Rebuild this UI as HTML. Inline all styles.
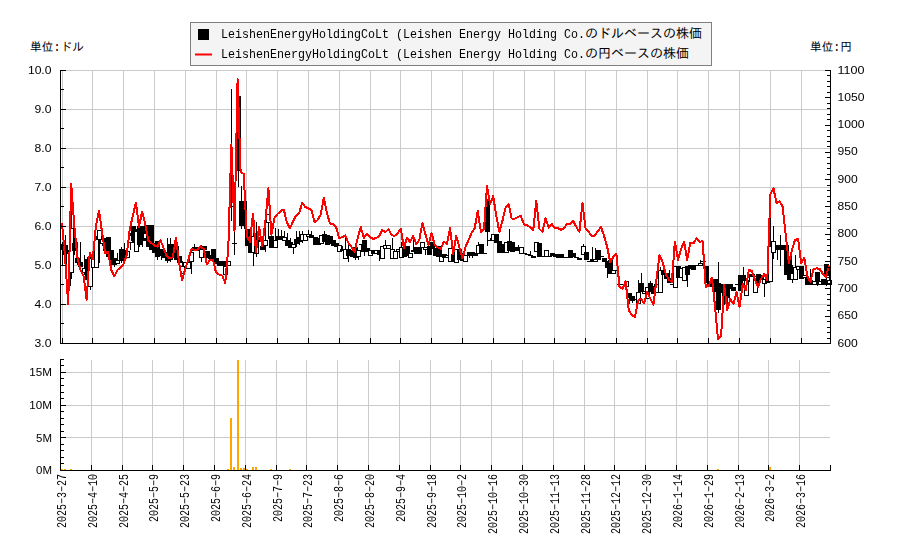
<!DOCTYPE html>
<html lang="ja"><head><meta charset="utf-8"><title>LeishenEnergyHoldingCoLt chart</title>
<style>html,body{margin:0;padding:0;background:#fff;font-family:"Liberation Sans",sans-serif}svg{display:block}</style></head>
<body>
<svg width="900" height="550" viewBox="0 0 900 550">
<rect width="900" height="550" fill="#fff"/>
<g stroke="#cbcbcb" stroke-width="1" shape-rendering="crispEdges">
<line x1="62.5" y1="70" x2="62.5" y2="343"/>
<line x1="92.5" y1="70" x2="92.5" y2="343"/>
<line x1="91.5" y1="360" x2="91.5" y2="470"/>
<line x1="123.5" y1="70" x2="123.5" y2="343"/>
<line x1="122.5" y1="360" x2="122.5" y2="470"/>
<line x1="154.5" y1="70" x2="154.5" y2="343"/>
<line x1="152.5" y1="360" x2="152.5" y2="470"/>
<line x1="185.5" y1="70" x2="185.5" y2="343"/>
<line x1="183.5" y1="360" x2="183.5" y2="470"/>
<line x1="216.5" y1="70" x2="216.5" y2="343"/>
<line x1="214.5" y1="360" x2="214.5" y2="470"/>
<line x1="246.5" y1="70" x2="246.5" y2="343"/>
<line x1="245.5" y1="360" x2="245.5" y2="470"/>
<line x1="277.5" y1="70" x2="277.5" y2="343"/>
<line x1="276.5" y1="360" x2="276.5" y2="470"/>
<line x1="308.5" y1="70" x2="308.5" y2="343"/>
<line x1="306.5" y1="360" x2="306.5" y2="470"/>
<line x1="339.5" y1="70" x2="339.5" y2="343"/>
<line x1="337.5" y1="360" x2="337.5" y2="470"/>
<line x1="370.5" y1="70" x2="370.5" y2="343"/>
<line x1="368.5" y1="360" x2="368.5" y2="470"/>
<line x1="400.5" y1="70" x2="400.5" y2="343"/>
<line x1="399.5" y1="360" x2="399.5" y2="470"/>
<line x1="431.5" y1="70" x2="431.5" y2="343"/>
<line x1="430.5" y1="360" x2="430.5" y2="470"/>
<line x1="462.5" y1="70" x2="462.5" y2="343"/>
<line x1="460.5" y1="360" x2="460.5" y2="470"/>
<line x1="493.5" y1="70" x2="493.5" y2="343"/>
<line x1="491.5" y1="360" x2="491.5" y2="470"/>
<line x1="524.5" y1="70" x2="524.5" y2="343"/>
<line x1="522.5" y1="360" x2="522.5" y2="470"/>
<line x1="554.5" y1="70" x2="554.5" y2="343"/>
<line x1="553.5" y1="360" x2="553.5" y2="470"/>
<line x1="585.5" y1="70" x2="585.5" y2="343"/>
<line x1="584.5" y1="360" x2="584.5" y2="470"/>
<line x1="616.5" y1="70" x2="616.5" y2="343"/>
<line x1="614.5" y1="360" x2="614.5" y2="470"/>
<line x1="647.5" y1="70" x2="647.5" y2="343"/>
<line x1="645.5" y1="360" x2="645.5" y2="470"/>
<line x1="677.5" y1="70" x2="677.5" y2="343"/>
<line x1="676.5" y1="360" x2="676.5" y2="470"/>
<line x1="708.5" y1="70" x2="708.5" y2="343"/>
<line x1="707.5" y1="360" x2="707.5" y2="470"/>
<line x1="739.5" y1="70" x2="739.5" y2="343"/>
<line x1="738.5" y1="360" x2="738.5" y2="470"/>
<line x1="770.5" y1="70" x2="770.5" y2="343"/>
<line x1="768.5" y1="360" x2="768.5" y2="470"/>
<line x1="801.5" y1="70" x2="801.5" y2="343"/>
<line x1="799.5" y1="360" x2="799.5" y2="470"/>
<line x1="61" y1="70.5" x2="830" y2="70.5"/>
<line x1="61" y1="109.5" x2="830" y2="109.5"/>
<line x1="61" y1="148.5" x2="830" y2="148.5"/>
<line x1="61" y1="187.5" x2="830" y2="187.5"/>
<line x1="61" y1="226.5" x2="830" y2="226.5"/>
<line x1="61" y1="265.5" x2="830" y2="265.5"/>
<line x1="61" y1="304.5" x2="830" y2="304.5"/>
<line x1="61" y1="343.5" x2="830" y2="343.5"/>
<line x1="61" y1="437.5" x2="830" y2="437.5"/>
<line x1="61" y1="405.5" x2="830" y2="405.5"/>
<line x1="61" y1="372.5" x2="830" y2="372.5"/>
</g>
<g fill="#ffa500" shape-rendering="crispEdges">
<rect x="61" y="469" width="2" height="1"/>
<rect x="64" y="469" width="2" height="1"/>
<rect x="70" y="469" width="2" height="1"/>
<rect x="227" y="469" width="2" height="1"/>
<rect x="230" y="418" width="2" height="52"/>
<rect x="233" y="467" width="2" height="3"/>
<rect x="237" y="360" width="2" height="110"/>
<rect x="240" y="468" width="2" height="2"/>
<rect x="243" y="468" width="2" height="2"/>
<rect x="246" y="469" width="2" height="1"/>
<rect x="252" y="467" width="2" height="3"/>
<rect x="255" y="467" width="2" height="3"/>
<rect x="270" y="469" width="2" height="1"/>
<rect x="289" y="469" width="2" height="1"/>
<rect x="717" y="469" width="2" height="1"/>
<rect x="769" y="467" width="2" height="3"/>
</g>
<g stroke="#000" stroke-width="1" shape-rendering="crispEdges">
<line x1="62.5" y1="242" x2="62.5" y2="244"/>
<line x1="62.5" y1="249" x2="62.5" y2="266"/>
<rect x="60.5" y="244.5" width="4" height="5" fill="#000"/>
<line x1="65.5" y1="235" x2="65.5" y2="245"/>
<line x1="65.5" y1="254" x2="65.5" y2="259"/>
<rect x="63.5" y="245.5" width="4" height="9" fill="#000"/>
<line x1="68.5" y1="250" x2="68.5" y2="253"/>
<line x1="68.5" y1="285" x2="68.5" y2="291"/>
<rect x="66.5" y="253.5" width="4" height="32" fill="#fff"/>
<line x1="71.5" y1="208" x2="71.5" y2="228"/>
<line x1="71.5" y1="272" x2="71.5" y2="279"/>
<rect x="69.5" y="228.5" width="4" height="44" fill="#fff"/>
<line x1="74.5" y1="236" x2="74.5" y2="243"/>
<line x1="74.5" y1="250" x2="74.5" y2="255"/>
<rect x="72.5" y="243.5" width="4" height="7" fill="#000"/>
<line x1="77.5" y1="242" x2="77.5" y2="258"/>
<line x1="77.5" y1="262" x2="77.5" y2="265"/>
<rect x="75.5" y="258.5" width="4" height="4" fill="#000"/>
<line x1="80.5" y1="242" x2="80.5" y2="262"/>
<line x1="80.5" y1="266" x2="80.5" y2="269"/>
<rect x="78.5" y="262.5" width="4" height="4" fill="#000"/>
<line x1="84.5" y1="255" x2="84.5" y2="268"/>
<line x1="84.5" y1="272" x2="84.5" y2="275"/>
<rect x="82.5" y="268.5" width="4" height="4" fill="#fff"/>
<line x1="87.5" y1="257" x2="87.5" y2="259"/>
<line x1="87.5" y1="279" x2="87.5" y2="289"/>
<rect x="85.5" y="259.5" width="4" height="20" fill="#000"/>
<line x1="90.5" y1="253" x2="90.5" y2="258"/>
<line x1="90.5" y1="286" x2="90.5" y2="290"/>
<rect x="88.5" y="258.5" width="4" height="28" fill="#fff"/>
<line x1="93.5" y1="254" x2="93.5" y2="258"/>
<rect x="91.5" y="258.5" width="4" height="9" fill="#fff"/>
<line x1="96.5" y1="236" x2="96.5" y2="239"/>
<rect x="94.5" y="239.5" width="4" height="28" fill="#fff"/>
<line x1="99.5" y1="239" x2="99.5" y2="263"/>
<rect x="97.5" y="230.5" width="4" height="9" fill="#fff"/>
<line x1="102.5" y1="243" x2="102.5" y2="246"/>
<rect x="100.5" y="239.5" width="4" height="4" fill="#fff"/>
<rect x="103.5" y="238.5" width="4" height="12" fill="#000"/>
<rect x="106.5" y="237.5" width="4" height="19" fill="#000"/>
<rect x="109.5" y="250.5" width="4" height="14" fill="#000"/>
<line x1="114.5" y1="264" x2="114.5" y2="267"/>
<rect x="112.5" y="258.5" width="4" height="6" fill="#000"/>
<line x1="117.5" y1="253" x2="117.5" y2="260"/>
<rect x="115.5" y="260.5" width="4" height="3" fill="#fff"/>
<line x1="121.5" y1="247" x2="121.5" y2="249"/>
<line x1="121.5" y1="260" x2="121.5" y2="263"/>
<rect x="119.5" y="249.5" width="4" height="11" fill="#000"/>
<line x1="124.5" y1="243" x2="124.5" y2="250"/>
<line x1="124.5" y1="258" x2="124.5" y2="261"/>
<rect x="122.5" y="250.5" width="4" height="8" fill="#000"/>
<line x1="127.5" y1="249" x2="127.5" y2="251"/>
<rect x="125.5" y="251.5" width="4" height="6" fill="#fff"/>
<line x1="130.5" y1="233" x2="130.5" y2="235"/>
<line x1="130.5" y1="242" x2="130.5" y2="250"/>
<rect x="128.5" y="235.5" width="4" height="7" fill="#fff"/>
<line x1="133.5" y1="240" x2="133.5" y2="243"/>
<rect x="131.5" y="226.5" width="4" height="14" fill="#000"/>
<line x1="136.5" y1="229" x2="136.5" y2="231"/>
<rect x="134.5" y="231.5" width="4" height="20" fill="#fff"/>
<line x1="139.5" y1="244" x2="139.5" y2="247"/>
<rect x="137.5" y="226.5" width="4" height="18" fill="#000"/>
<line x1="142.5" y1="240" x2="142.5" y2="247"/>
<rect x="140.5" y="226.5" width="4" height="14" fill="#000"/>
<line x1="145.5" y1="226" x2="145.5" y2="233"/>
<line x1="145.5" y1="238" x2="145.5" y2="241"/>
<rect x="143.5" y="233.5" width="4" height="5" fill="#fff"/>
<rect x="146.5" y="225.5" width="4" height="21" fill="#000"/>
<rect x="149.5" y="225.5" width="4" height="24" fill="#000"/>
<rect x="152.5" y="243.5" width="4" height="9" fill="#000"/>
<line x1="157.5" y1="256" x2="157.5" y2="260"/>
<rect x="155.5" y="241.5" width="4" height="15" fill="#000"/>
<line x1="161.5" y1="255" x2="161.5" y2="260"/>
<rect x="159.5" y="249.5" width="4" height="6" fill="#000"/>
<rect x="162.5" y="252.5" width="4" height="5" fill="#000"/>
<line x1="167.5" y1="238" x2="167.5" y2="254"/>
<line x1="167.5" y1="260" x2="167.5" y2="263"/>
<rect x="165.5" y="254.5" width="4" height="6" fill="#000"/>
<line x1="170.5" y1="238" x2="170.5" y2="244"/>
<line x1="170.5" y1="259" x2="170.5" y2="262"/>
<rect x="168.5" y="244.5" width="4" height="15" fill="#000"/>
<rect x="171.5" y="244.5" width="4" height="13" fill="#000"/>
<rect x="174.5" y="246.5" width="4" height="13" fill="#000"/>
<rect x="177.5" y="256.5" width="4" height="6" fill="#000"/>
<line x1="182.5" y1="261" x2="182.5" y2="266"/>
<rect x="180.5" y="266.5" width="4" height="7" fill="#fff"/>
<rect x="183.5" y="262.5" width="4" height="4" fill="#fff"/>
<rect x="186.5" y="262.5" width="4" height="6" fill="#fff"/>
<line x1="191.5" y1="250" x2="191.5" y2="252"/>
<line x1="191.5" y1="261" x2="191.5" y2="274"/>
<rect x="189.5" y="252.5" width="4" height="9" fill="#fff"/>
<line x1="194.5" y1="244" x2="194.5" y2="247"/>
<rect x="192.5" y="247.5" width="4" height="3" fill="#000"/>
<rect x="196.5" y="247.5" width="4" height="3" fill="#000"/>
<line x1="201.5" y1="245" x2="201.5" y2="249"/>
<line x1="201.5" y1="257" x2="201.5" y2="262"/>
<rect x="199.5" y="249.5" width="4" height="8" fill="#fff"/>
<rect x="202.5" y="246.5" width="4" height="3" fill="#000"/>
<rect x="205.5" y="251.5" width="4" height="6" fill="#000"/>
<rect x="208.5" y="255.5" width="4" height="3" fill="#000"/>
<rect x="211.5" y="249.5" width="4" height="10" fill="#000"/>
<rect x="214.5" y="258.5" width="4" height="5" fill="#000"/>
<rect x="217.5" y="261.5" width="4" height="4" fill="#000"/>
<rect x="220.5" y="261.5" width="4" height="4" fill="#000"/>
<line x1="225.5" y1="261" x2="225.5" y2="266"/>
<rect x="223.5" y="266.5" width="4" height="8" fill="#fff"/>
<rect x="226.5" y="261.5" width="4" height="4" fill="#fff"/>
<line x1="231.5" y1="89" x2="231.5" y2="206"/>
<line x1="231.5" y1="206" x2="231.5" y2="221"/>
<line x1="229.0" y1="206.5" x2="234.0" y2="206.5"/>
<line x1="234.5" y1="231" x2="234.5" y2="243"/>
<line x1="234.5" y1="243" x2="234.5" y2="255"/>
<line x1="232.0" y1="243.5" x2="237.0" y2="243.5"/>
<line x1="238.5" y1="170" x2="238.5" y2="187"/>
<rect x="236.5" y="96.5" width="4" height="74" fill="#000"/>
<line x1="241.5" y1="186" x2="241.5" y2="201"/>
<line x1="241.5" y1="225" x2="241.5" y2="229"/>
<rect x="239.5" y="201.5" width="4" height="24" fill="#000"/>
<line x1="244.5" y1="225" x2="244.5" y2="229"/>
<rect x="242.5" y="201.5" width="4" height="24" fill="#000"/>
<rect x="245.5" y="229.5" width="4" height="16" fill="#000"/>
<rect x="248.5" y="238.5" width="4" height="14" fill="#000"/>
<line x1="253.5" y1="233" x2="253.5" y2="236"/>
<line x1="253.5" y1="252" x2="253.5" y2="266"/>
<rect x="251.5" y="236.5" width="4" height="16" fill="#fff"/>
<line x1="256.5" y1="222" x2="256.5" y2="240"/>
<line x1="256.5" y1="253" x2="256.5" y2="257"/>
<rect x="254.5" y="240.5" width="4" height="13" fill="#fff"/>
<rect x="257.5" y="237.5" width="4" height="4" fill="#000"/>
<rect x="260.5" y="246.5" width="4" height="3" fill="#000"/>
<line x1="265.5" y1="228" x2="265.5" y2="240"/>
<line x1="265.5" y1="245" x2="265.5" y2="252"/>
<rect x="263.5" y="240.5" width="4" height="5" fill="#fff"/>
<line x1="268.5" y1="222" x2="268.5" y2="239"/>
<rect x="266.5" y="214.5" width="4" height="8" fill="#fff"/>
<rect x="269.5" y="236.5" width="4" height="11" fill="#000"/>
<line x1="275.5" y1="228" x2="275.5" y2="240"/>
<rect x="273.5" y="240.5" width="4" height="7" fill="#fff"/>
<line x1="278.5" y1="229" x2="278.5" y2="236"/>
<rect x="276.5" y="236.5" width="4" height="3" fill="#000"/>
<line x1="281.5" y1="230" x2="281.5" y2="236"/>
<rect x="279.5" y="236.5" width="4" height="3" fill="#000"/>
<line x1="284.5" y1="231" x2="284.5" y2="237"/>
<rect x="282.5" y="237.5" width="4" height="3" fill="#fff"/>
<line x1="287.5" y1="233" x2="287.5" y2="240"/>
<rect x="285.5" y="240.5" width="4" height="5" fill="#000"/>
<line x1="290.5" y1="238" x2="290.5" y2="242"/>
<rect x="288.5" y="242.5" width="4" height="5" fill="#000"/>
<line x1="293.5" y1="247" x2="293.5" y2="254"/>
<rect x="291.5" y="244.5" width="4" height="3" fill="#fff"/>
<line x1="296.5" y1="231" x2="296.5" y2="239"/>
<line x1="296.5" y1="243" x2="296.5" y2="247"/>
<rect x="294.5" y="239.5" width="4" height="4" fill="#000"/>
<line x1="299.5" y1="231" x2="299.5" y2="237"/>
<line x1="299.5" y1="241" x2="299.5" y2="245"/>
<rect x="297.5" y="237.5" width="4" height="4" fill="#000"/>
<line x1="302.5" y1="231" x2="302.5" y2="234"/>
<line x1="302.5" y1="240" x2="302.5" y2="243"/>
<rect x="300.5" y="234.5" width="4" height="6" fill="#fff"/>
<rect x="303.5" y="234.5" width="4" height="6" fill="#fff"/>
<line x1="308.5" y1="230" x2="308.5" y2="234"/>
<rect x="306.5" y="234.5" width="4" height="2" fill="#fff"/>
<line x1="311.5" y1="231" x2="311.5" y2="235"/>
<rect x="309.5" y="235.5" width="4" height="2" fill="#000"/>
<rect x="313.5" y="237.5" width="4" height="7" fill="#000"/>
<rect x="316.5" y="238.5" width="4" height="6" fill="#000"/>
<rect x="319.5" y="235.5" width="4" height="8" fill="#fff"/>
<line x1="324.5" y1="231" x2="324.5" y2="234"/>
<rect x="322.5" y="234.5" width="4" height="7" fill="#000"/>
<rect x="325.5" y="235.5" width="4" height="9" fill="#000"/>
<rect x="328.5" y="236.5" width="4" height="7" fill="#000"/>
<rect x="331.5" y="240.5" width="4" height="5" fill="#000"/>
<rect x="334.5" y="243.5" width="4" height="3" fill="#000"/>
<rect x="337.5" y="245.5" width="4" height="6" fill="#fff"/>
<line x1="342.5" y1="246" x2="342.5" y2="249"/>
<rect x="340.5" y="249.5" width="4" height="1" fill="#000"/>
<line x1="345.5" y1="238" x2="345.5" y2="249"/>
<rect x="343.5" y="249.5" width="4" height="9" fill="#fff"/>
<line x1="348.5" y1="244" x2="348.5" y2="249"/>
<line x1="348.5" y1="255" x2="348.5" y2="262"/>
<rect x="346.5" y="249.5" width="4" height="6" fill="#000"/>
<rect x="350.5" y="250.5" width="4" height="6" fill="#000"/>
<line x1="355.5" y1="257" x2="355.5" y2="260"/>
<rect x="353.5" y="247.5" width="4" height="10" fill="#000"/>
<line x1="358.5" y1="256" x2="358.5" y2="260"/>
<rect x="356.5" y="250.5" width="4" height="6" fill="#fff"/>
<line x1="361.5" y1="244" x2="361.5" y2="252"/>
<line x1="359.0" y1="244.5" x2="364.0" y2="244.5"/>
<line x1="364.5" y1="251" x2="364.5" y2="256"/>
<rect x="362.5" y="240.5" width="4" height="11" fill="#000"/>
<rect x="365.5" y="248.5" width="4" height="3" fill="#000"/>
<rect x="368.5" y="250.5" width="4" height="5" fill="#fff"/>
<rect x="371.5" y="250.5" width="4" height="3" fill="#000"/>
<rect x="374.5" y="250.5" width="4" height="3" fill="#fff"/>
<line x1="379.5" y1="254" x2="379.5" y2="261"/>
<rect x="377.5" y="250.5" width="4" height="4" fill="#000"/>
<rect x="380.5" y="246.5" width="4" height="12" fill="#fff"/>
<line x1="385.5" y1="240" x2="385.5" y2="245"/>
<rect x="383.5" y="245.5" width="4" height="3" fill="#fff"/>
<rect x="386.5" y="245.5" width="4" height="3" fill="#fff"/>
<line x1="392.5" y1="238" x2="392.5" y2="249"/>
<rect x="390.5" y="249.5" width="4" height="9" fill="#fff"/>
<rect x="393.5" y="251.5" width="4" height="7" fill="#fff"/>
<rect x="396.5" y="249.5" width="4" height="2" fill="#fff"/>
<line x1="401.5" y1="242" x2="401.5" y2="247"/>
<rect x="399.5" y="247.5" width="4" height="10" fill="#fff"/>
<rect x="402.5" y="247.5" width="4" height="9" fill="#000"/>
<rect x="405.5" y="246.5" width="4" height="9" fill="#000"/>
<rect x="408.5" y="253.5" width="4" height="4" fill="#fff"/>
<line x1="413.5" y1="240" x2="413.5" y2="250"/>
<rect x="411.5" y="250.5" width="4" height="1" fill="#fff"/>
<rect x="414.5" y="247.5" width="4" height="6" fill="#000"/>
<rect x="417.5" y="247.5" width="4" height="6" fill="#000"/>
<rect x="420.5" y="242.5" width="4" height="5" fill="#fff"/>
<line x1="425.5" y1="249" x2="425.5" y2="255"/>
<rect x="423.5" y="247.5" width="4" height="2" fill="#fff"/>
<rect x="427.5" y="246.5" width="4" height="8" fill="#000"/>
<rect x="430.5" y="242.5" width="4" height="6" fill="#000"/>
<rect x="433.5" y="248.5" width="4" height="7" fill="#000"/>
<rect x="436.5" y="246.5" width="4" height="10" fill="#000"/>
<line x1="441.5" y1="249" x2="441.5" y2="256"/>
<rect x="439.5" y="256.5" width="4" height="5" fill="#fff"/>
<rect x="442.5" y="254.5" width="4" height="3" fill="#000"/>
<rect x="445.5" y="255.5" width="4" height="2" fill="#fff"/>
<rect x="448.5" y="248.5" width="4" height="13" fill="#fff"/>
<rect x="451.5" y="254.5" width="4" height="7" fill="#000"/>
<rect x="454.5" y="249.5" width="4" height="13" fill="#fff"/>
<rect x="457.5" y="249.5" width="4" height="10" fill="#000"/>
<rect x="460.5" y="253.5" width="4" height="7" fill="#000"/>
<rect x="463.5" y="255.5" width="4" height="6" fill="#fff"/>
<line x1="469.5" y1="255" x2="469.5" y2="258"/>
<rect x="467.5" y="252.5" width="4" height="3" fill="#000"/>
<line x1="472.5" y1="255" x2="472.5" y2="258"/>
<rect x="470.5" y="252.5" width="4" height="3" fill="#000"/>
<rect x="473.5" y="253.5" width="4" height="2" fill="#000"/>
<line x1="478.5" y1="242" x2="478.5" y2="245"/>
<rect x="476.5" y="245.5" width="4" height="8" fill="#fff"/>
<rect x="479.5" y="244.5" width="4" height="9" fill="#000"/>
<line x1="482.0" y1="253.5" x2="487.0" y2="253.5"/>
<line x1="487.5" y1="231" x2="487.5" y2="246"/>
<rect x="485.5" y="199.5" width="4" height="32" fill="#000"/>
<line x1="490.5" y1="238" x2="490.5" y2="240"/>
<line x1="488.0" y1="240.5" x2="493.0" y2="240.5"/>
<rect x="491.5" y="234.5" width="4" height="6" fill="#fff"/>
<rect x="494.5" y="234.5" width="4" height="8" fill="#000"/>
<rect x="497.5" y="241.5" width="4" height="11" fill="#000"/>
<rect x="500.5" y="244.5" width="4" height="8" fill="#000"/>
<rect x="504.5" y="242.5" width="4" height="10" fill="#fff"/>
<line x1="509.5" y1="229" x2="509.5" y2="241"/>
<rect x="507.5" y="241.5" width="4" height="9" fill="#000"/>
<rect x="510.5" y="242.5" width="4" height="9" fill="#000"/>
<rect x="513.5" y="247.5" width="4" height="3" fill="#000"/>
<line x1="518.5" y1="245" x2="518.5" y2="248"/>
<line x1="518.5" y1="248" x2="518.5" y2="251"/>
<line x1="516.0" y1="248.5" x2="521.0" y2="248.5"/>
<rect x="519.5" y="247.5" width="4" height="6" fill="#fff"/>
<line x1="522.0" y1="253.5" x2="527.0" y2="253.5"/>
<line x1="525.0" y1="254.5" x2="530.0" y2="254.5"/>
<line x1="530.5" y1="251" x2="530.5" y2="255"/>
<line x1="528.0" y1="255.5" x2="533.0" y2="255.5"/>
<rect x="531.5" y="256.5" width="4" height="1" fill="#000"/>
<rect x="534.5" y="242.5" width="4" height="9" fill="#fff"/>
<rect x="537.5" y="243.5" width="4" height="13" fill="#000"/>
<line x1="540.0" y1="256.5" x2="545.0" y2="256.5"/>
<rect x="544.5" y="250.5" width="4" height="6" fill="#fff"/>
<line x1="547.0" y1="256.5" x2="552.0" y2="256.5"/>
<rect x="550.5" y="253.5" width="4" height="2" fill="#000"/>
<rect x="553.5" y="254.5" width="4" height="2" fill="#000"/>
<rect x="556.5" y="254.5" width="4" height="3" fill="#000"/>
<rect x="559.5" y="254.5" width="4" height="3" fill="#000"/>
<line x1="562.0" y1="257.5" x2="567.0" y2="257.5"/>
<line x1="565.0" y1="257.5" x2="570.0" y2="257.5"/>
<rect x="568.5" y="250.5" width="4" height="7" fill="#000"/>
<rect x="571.5" y="253.5" width="4" height="3" fill="#000"/>
<line x1="574.0" y1="257.5" x2="579.0" y2="257.5"/>
<rect x="577.5" y="258.5" width="4" height="1" fill="#000"/>
<line x1="583.5" y1="244" x2="583.5" y2="246"/>
<rect x="581.5" y="246.5" width="4" height="8" fill="#fff"/>
<rect x="584.5" y="252.5" width="4" height="7" fill="#000"/>
<line x1="587.0" y1="261.5" x2="592.0" y2="261.5"/>
<line x1="592.5" y1="247" x2="592.5" y2="259"/>
<rect x="590.5" y="259.5" width="4" height="2" fill="#000"/>
<line x1="595.5" y1="248" x2="595.5" y2="259"/>
<rect x="593.5" y="259.5" width="4" height="2" fill="#fff"/>
<rect x="596.5" y="250.5" width="4" height="9" fill="#000"/>
<line x1="599.0" y1="256.5" x2="604.0" y2="256.5"/>
<rect x="602.5" y="258.5" width="4" height="3" fill="#000"/>
<line x1="607.5" y1="267" x2="607.5" y2="278"/>
<rect x="605.5" y="261.5" width="4" height="6" fill="#000"/>
<rect x="608.5" y="260.5" width="4" height="13" fill="#000"/>
<rect x="611.5" y="270.5" width="4" height="3" fill="#fff"/>
<line x1="614.0" y1="270.5" x2="619.0" y2="270.5"/>
<line x1="617.0" y1="284.5" x2="622.0" y2="284.5"/>
<line x1="621.0" y1="284.5" x2="626.0" y2="284.5"/>
<rect x="624.5" y="281.5" width="4" height="5" fill="#fff"/>
<line x1="629.5" y1="297" x2="629.5" y2="304"/>
<rect x="627.5" y="293.5" width="4" height="4" fill="#000"/>
<line x1="632.5" y1="300" x2="632.5" y2="303"/>
<rect x="630.5" y="296.5" width="4" height="4" fill="#000"/>
<line x1="633.0" y1="299.5" x2="638.0" y2="299.5"/>
<line x1="638.5" y1="280" x2="638.5" y2="292"/>
<rect x="636.5" y="292.5" width="4" height="11" fill="#fff"/>
<line x1="641.5" y1="273" x2="641.5" y2="283"/>
<rect x="639.5" y="283.5" width="4" height="8" fill="#000"/>
<rect x="642.5" y="291.5" width="4" height="2" fill="#fff"/>
<rect x="645.5" y="287.5" width="4" height="11" fill="#fff"/>
<line x1="650.5" y1="281" x2="650.5" y2="283"/>
<rect x="648.5" y="283.5" width="4" height="8" fill="#000"/>
<rect x="651.5" y="286.5" width="4" height="7" fill="#000"/>
<rect x="654.5" y="284.5" width="4" height="8" fill="#fff"/>
<line x1="660.5" y1="267" x2="660.5" y2="270"/>
<rect x="658.5" y="270.5" width="4" height="22" fill="#fff"/>
<rect x="661.5" y="270.5" width="4" height="4" fill="#000"/>
<rect x="664.5" y="273.5" width="4" height="5" fill="#000"/>
<line x1="669.5" y1="270" x2="669.5" y2="278"/>
<rect x="667.5" y="278.5" width="4" height="4" fill="#000"/>
<line x1="670.0" y1="284.5" x2="675.0" y2="284.5"/>
<rect x="673.5" y="266.5" width="4" height="21" fill="#fff"/>
<rect x="676.5" y="266.5" width="4" height="11" fill="#000"/>
<rect x="679.5" y="268.5" width="4" height="9" fill="#fff"/>
<rect x="682.5" y="267.5" width="4" height="13" fill="#fff"/>
<line x1="687.5" y1="274" x2="687.5" y2="287"/>
<rect x="685.5" y="266.5" width="4" height="8" fill="#000"/>
<rect x="688.5" y="265.5" width="4" height="3" fill="#000"/>
<rect x="691.5" y="265.5" width="4" height="4" fill="#000"/>
<line x1="694.0" y1="265.5" x2="699.0" y2="265.5"/>
<line x1="700.5" y1="260" x2="700.5" y2="263"/>
<rect x="698.5" y="263.5" width="4" height="2" fill="#fff"/>
<line x1="703.5" y1="261" x2="703.5" y2="264"/>
<line x1="701.0" y1="261.5" x2="706.0" y2="261.5"/>
<rect x="704.5" y="266.5" width="4" height="16" fill="#000"/>
<rect x="707.5" y="281.5" width="4" height="5" fill="#000"/>
<rect x="710.5" y="279.5" width="4" height="6" fill="#000"/>
<rect x="713.5" y="279.5" width="4" height="12" fill="#000"/>
<line x1="718.5" y1="262" x2="718.5" y2="283"/>
<line x1="718.5" y1="309" x2="718.5" y2="313"/>
<rect x="716.5" y="283.5" width="4" height="26" fill="#000"/>
<rect x="719.5" y="284.5" width="4" height="8" fill="#000"/>
<line x1="724.5" y1="297" x2="724.5" y2="305"/>
<rect x="722.5" y="284.5" width="4" height="13" fill="#000"/>
<line x1="727.5" y1="297" x2="727.5" y2="305"/>
<rect x="725.5" y="284.5" width="4" height="13" fill="#000"/>
<rect x="728.5" y="284.5" width="4" height="4" fill="#000"/>
<rect x="731.5" y="287.5" width="4" height="3" fill="#000"/>
<line x1="735.0" y1="284.5" x2="740.0" y2="284.5"/>
<rect x="738.5" y="275.5" width="4" height="15" fill="#000"/>
<line x1="743.5" y1="267" x2="743.5" y2="275"/>
<rect x="741.5" y="275.5" width="4" height="5" fill="#000"/>
<rect x="744.5" y="280.5" width="4" height="15" fill="#fff"/>
<line x1="749.5" y1="276" x2="749.5" y2="282"/>
<rect x="747.5" y="274.5" width="4" height="2" fill="#000"/>
<rect x="750.5" y="274.5" width="4" height="2" fill="#000"/>
<rect x="753.5" y="276.5" width="4" height="16" fill="#fff"/>
<rect x="756.5" y="274.5" width="4" height="8" fill="#000"/>
<rect x="759.5" y="275.5" width="4" height="4" fill="#000"/>
<line x1="764.5" y1="283" x2="764.5" y2="297"/>
<rect x="762.5" y="279.5" width="4" height="4" fill="#fff"/>
<rect x="765.5" y="279.5" width="4" height="3" fill="#000"/>
<line x1="770.5" y1="192" x2="770.5" y2="246"/>
<rect x="768.5" y="246.5" width="4" height="35" fill="#fff"/>
<line x1="773.5" y1="226" x2="773.5" y2="241"/>
<line x1="773.5" y1="252" x2="773.5" y2="259"/>
<rect x="771.5" y="241.5" width="4" height="11" fill="#fff"/>
<line x1="777.5" y1="249" x2="777.5" y2="260"/>
<rect x="775.5" y="245.5" width="4" height="4" fill="#000"/>
<line x1="780.5" y1="235" x2="780.5" y2="245"/>
<line x1="780.5" y1="249" x2="780.5" y2="266"/>
<rect x="778.5" y="245.5" width="4" height="4" fill="#000"/>
<rect x="781.5" y="245.5" width="4" height="4" fill="#000"/>
<rect x="784.5" y="245.5" width="4" height="29" fill="#000"/>
<rect x="787.5" y="256.5" width="4" height="23" fill="#000"/>
<line x1="792.5" y1="265" x2="792.5" y2="273"/>
<line x1="792.5" y1="279" x2="792.5" y2="283"/>
<rect x="790.5" y="273.5" width="4" height="6" fill="#fff"/>
<line x1="795.5" y1="255" x2="795.5" y2="267"/>
<rect x="793.5" y="267.5" width="4" height="12" fill="#fff"/>
<rect x="796.5" y="266.5" width="4" height="3" fill="#fff"/>
<rect x="799.5" y="266.5" width="4" height="12" fill="#000"/>
<rect x="802.5" y="275.5" width="4" height="2" fill="#fff"/>
<rect x="805.5" y="278.5" width="4" height="6" fill="#000"/>
<line x1="810.5" y1="269" x2="810.5" y2="280"/>
<rect x="808.5" y="280.5" width="4" height="4" fill="#000"/>
<rect x="812.5" y="281.5" width="4" height="3" fill="#fff"/>
<line x1="817.5" y1="280" x2="817.5" y2="286"/>
<rect x="815.5" y="272.5" width="4" height="8" fill="#000"/>
<rect x="818.5" y="281.5" width="4" height="3" fill="#fff"/>
<rect x="821.5" y="279.5" width="4" height="5" fill="#000"/>
<line x1="826.5" y1="275" x2="826.5" y2="286"/>
<rect x="824.5" y="264.5" width="4" height="11" fill="#000"/>
<line x1="829.5" y1="267" x2="829.5" y2="280"/>
<rect x="827.5" y="280.5" width="4" height="4" fill="#fff"/>
</g>
<polyline points="62.0,223.0 65.1,258.0 68.2,304.0 71.2,184.0 74.3,226.0 77.4,257.0 80.5,270.0 83.6,276.0 86.6,299.5 89.7,253.0 92.8,259.0 95.9,226.0 99.0,210.5 102.0,232.0 105.1,253.0 108.2,252.0 111.3,270.0 114.4,276.5 117.4,270.0 120.5,267.5 123.6,264.0 126.7,255.0 129.8,229.0 132.8,216.0 135.9,202.5 139.0,227.0 142.1,211.5 145.2,224.0 148.2,240.0 151.3,243.0 154.4,245.5 157.5,246.5 160.6,240.5 163.6,248.0 166.7,256.0 169.8,258.5 172.9,257.0 176.0,237.5 179.0,262.0 182.1,280.0 185.2,269.0 188.3,260.0 191.4,249.0 194.4,250.0 197.5,249.5 200.6,246.5 203.7,249.0 206.8,264.5 209.8,260.0 212.9,259.5 216.0,272.5 219.1,274.5 222.2,275.5 225.2,283.0 228.3,248.0 231.4,144.0 234.5,231.0 237.6,79.0 240.6,172.0 243.7,174.0 246.8,236.0 249.9,242.0 253.0,213.5 256.0,252.0 259.1,226.5 262.2,246.5 265.3,222.0 268.4,188.0 271.4,235.0 274.5,218.0 277.6,214.0 280.7,211.0 283.8,209.5 286.8,222.0 289.9,228.5 293.0,221.5 296.1,215.5 299.2,213.0 302.2,203.0 305.3,207.0 308.4,208.5 311.5,210.0 314.6,222.0 317.6,220.0 320.7,214.5 323.8,198.0 326.9,213.0 330.0,223.5 333.0,224.0 336.1,227.0 339.2,238.5 342.3,237.0 345.4,235.5 348.4,243.0 351.5,247.0 354.6,252.0 357.7,238.0 360.8,227.0 363.8,238.0 366.9,234.0 370.0,237.0 373.1,239.0 376.2,238.0 379.2,236.0 382.3,230.0 385.4,232.0 388.5,229.0 391.6,235.0 394.6,236.0 397.7,233.0 400.8,229.0 403.9,248.0 407.0,237.5 410.0,242.0 413.1,236.0 416.2,244.0 419.3,240.0 422.4,223.0 425.4,234.0 428.5,245.0 431.6,233.0 434.7,245.0 437.8,247.5 440.8,249.0 443.9,241.5 447.0,244.0 450.1,228.0 453.2,254.0 456.2,236.0 459.3,247.0 462.4,258.5 465.5,247.0 468.6,240.0 471.6,233.0 474.7,228.0 477.8,211.0 480.9,232.0 484.0,229.0 487.0,186.0 490.1,204.0 493.2,196.0 496.3,216.0 499.4,232.0 502.4,221.0 505.5,208.0 508.6,204.0 511.7,218.5 514.8,218.5 517.8,217.0 520.9,216.0 524.0,224.5 527.1,225.0 530.2,227.5 533.2,230.5 536.3,201.0 539.4,229.0 542.5,232.0 545.6,218.0 548.6,227.5 551.7,224.0 554.8,228.5 557.9,228.0 561.0,230.0 564.0,228.0 567.1,224.0 570.2,224.0 573.3,221.0 576.4,227.0 579.4,232.0 582.5,203.0 585.6,229.0 588.7,232.0 591.8,236.0 594.8,235.5 597.9,231.0 601.0,227.0 604.1,236.0 607.2,247.0 610.2,262.0 613.3,257.0 616.4,254.0 619.5,287.0 622.6,289.0 625.6,281.0 628.7,310.0 631.8,315.0 634.9,317.0 638.0,301.0 641.0,298.5 644.1,303.5 647.2,292.0 650.3,298.5 653.4,305.0 656.4,280.0 659.5,255.5 662.6,262.0 665.7,274.0 668.8,279.5 671.8,282.0 674.9,241.5 678.0,260.0 681.1,249.0 684.1,242.0 687.2,260.0 690.3,243.0 693.4,243.5 696.5,238.5 699.5,242.0 702.6,241.0 705.7,287.0 708.8,286.0 711.9,277.5 714.9,305.0 718.0,339.0 721.1,336.0 724.2,285.0 727.3,310.0 730.3,299.0 733.4,304.0 736.5,292.5 739.6,307.0 742.7,284.0 745.7,290.0 748.8,270.0 751.9,271.0 755.0,280.0 758.1,287.0 761.1,278.5 764.2,274.0 767.3,280.0 770.4,194.0 773.5,188.5 776.5,203.0 779.6,201.0 782.7,207.0 785.8,236.0 788.9,263.0 791.9,250.0 795.0,240.0 798.1,239.0 801.2,263.0 804.3,258.0 807.3,276.0 810.4,282.0 813.5,269.0 816.6,268.3 819.7,269.0 822.7,273.5 825.8,277.5 828.9,265.5" fill="none" stroke="#ff0000" stroke-width="2" stroke-linejoin="round" stroke-linecap="butt" shape-rendering="crispEdges"/>
<g stroke="#000" stroke-width="1" shape-rendering="crispEdges">
<line x1="60.5" y1="70" x2="60.5" y2="344"/>
<line x1="60" y1="343.5" x2="831" y2="343.5"/>
<line x1="830.5" y1="70" x2="830.5" y2="344"/>
<line x1="60.5" y1="359" x2="60.5" y2="471"/>
<line x1="60" y1="470.5" x2="831" y2="470.5"/>
<line x1="830.5" y1="465" x2="830.5" y2="471"/>
<line x1="61" y1="70.5" x2="66" y2="70.5"/>
<line x1="61" y1="89.5" x2="64" y2="89.5"/>
<line x1="61" y1="109.5" x2="66" y2="109.5"/>
<line x1="61" y1="128.5" x2="64" y2="128.5"/>
<line x1="61" y1="148.5" x2="66" y2="148.5"/>
<line x1="61" y1="167.5" x2="64" y2="167.5"/>
<line x1="61" y1="187.5" x2="66" y2="187.5"/>
<line x1="61" y1="206.5" x2="64" y2="206.5"/>
<line x1="61" y1="226.5" x2="66" y2="226.5"/>
<line x1="61" y1="245.5" x2="64" y2="245.5"/>
<line x1="61" y1="265.5" x2="66" y2="265.5"/>
<line x1="61" y1="284.5" x2="64" y2="284.5"/>
<line x1="61" y1="304.5" x2="66" y2="304.5"/>
<line x1="61" y1="323.5" x2="64" y2="323.5"/>
<line x1="61" y1="343.5" x2="66" y2="343.5"/>
<line x1="825" y1="343.5" x2="830" y2="343.5"/>
<line x1="827" y1="338.5" x2="830" y2="338.5"/>
<line x1="827" y1="332.5" x2="830" y2="332.5"/>
<line x1="827" y1="327.5" x2="830" y2="327.5"/>
<line x1="827" y1="321.5" x2="830" y2="321.5"/>
<line x1="825" y1="316.5" x2="830" y2="316.5"/>
<line x1="827" y1="310.5" x2="830" y2="310.5"/>
<line x1="827" y1="305.5" x2="830" y2="305.5"/>
<line x1="827" y1="299.5" x2="830" y2="299.5"/>
<line x1="827" y1="294.5" x2="830" y2="294.5"/>
<line x1="825" y1="288.5" x2="830" y2="288.5"/>
<line x1="827" y1="283.5" x2="830" y2="283.5"/>
<line x1="827" y1="277.5" x2="830" y2="277.5"/>
<line x1="827" y1="272.5" x2="830" y2="272.5"/>
<line x1="827" y1="267.5" x2="830" y2="267.5"/>
<line x1="825" y1="261.5" x2="830" y2="261.5"/>
<line x1="827" y1="256.5" x2="830" y2="256.5"/>
<line x1="827" y1="250.5" x2="830" y2="250.5"/>
<line x1="827" y1="245.5" x2="830" y2="245.5"/>
<line x1="827" y1="239.5" x2="830" y2="239.5"/>
<line x1="825" y1="234.5" x2="830" y2="234.5"/>
<line x1="827" y1="228.5" x2="830" y2="228.5"/>
<line x1="827" y1="223.5" x2="830" y2="223.5"/>
<line x1="827" y1="217.5" x2="830" y2="217.5"/>
<line x1="827" y1="212.5" x2="830" y2="212.5"/>
<line x1="825" y1="206.5" x2="830" y2="206.5"/>
<line x1="827" y1="201.5" x2="830" y2="201.5"/>
<line x1="827" y1="196.5" x2="830" y2="196.5"/>
<line x1="827" y1="190.5" x2="830" y2="190.5"/>
<line x1="827" y1="185.5" x2="830" y2="185.5"/>
<line x1="825" y1="179.5" x2="830" y2="179.5"/>
<line x1="827" y1="174.5" x2="830" y2="174.5"/>
<line x1="827" y1="168.5" x2="830" y2="168.5"/>
<line x1="827" y1="163.5" x2="830" y2="163.5"/>
<line x1="827" y1="157.5" x2="830" y2="157.5"/>
<line x1="825" y1="152.5" x2="830" y2="152.5"/>
<line x1="827" y1="146.5" x2="830" y2="146.5"/>
<line x1="827" y1="141.5" x2="830" y2="141.5"/>
<line x1="827" y1="136.5" x2="830" y2="136.5"/>
<line x1="827" y1="130.5" x2="830" y2="130.5"/>
<line x1="825" y1="125.5" x2="830" y2="125.5"/>
<line x1="827" y1="119.5" x2="830" y2="119.5"/>
<line x1="827" y1="114.5" x2="830" y2="114.5"/>
<line x1="827" y1="108.5" x2="830" y2="108.5"/>
<line x1="827" y1="103.5" x2="830" y2="103.5"/>
<line x1="825" y1="97.5" x2="830" y2="97.5"/>
<line x1="827" y1="92.5" x2="830" y2="92.5"/>
<line x1="827" y1="86.5" x2="830" y2="86.5"/>
<line x1="827" y1="81.5" x2="830" y2="81.5"/>
<line x1="827" y1="75.5" x2="830" y2="75.5"/>
<line x1="825" y1="70.5" x2="830" y2="70.5"/>
<line x1="62.5" y1="338" x2="62.5" y2="343"/>
<line x1="60.5" y1="465" x2="60.5" y2="470"/>
<line x1="92.5" y1="338" x2="92.5" y2="343"/>
<line x1="91.5" y1="465" x2="91.5" y2="470"/>
<line x1="123.5" y1="338" x2="123.5" y2="343"/>
<line x1="122.5" y1="465" x2="122.5" y2="470"/>
<line x1="154.5" y1="338" x2="154.5" y2="343"/>
<line x1="152.5" y1="465" x2="152.5" y2="470"/>
<line x1="185.5" y1="338" x2="185.5" y2="343"/>
<line x1="183.5" y1="465" x2="183.5" y2="470"/>
<line x1="216.5" y1="338" x2="216.5" y2="343"/>
<line x1="214.5" y1="465" x2="214.5" y2="470"/>
<line x1="246.5" y1="338" x2="246.5" y2="343"/>
<line x1="245.5" y1="465" x2="245.5" y2="470"/>
<line x1="277.5" y1="338" x2="277.5" y2="343"/>
<line x1="276.5" y1="465" x2="276.5" y2="470"/>
<line x1="308.5" y1="338" x2="308.5" y2="343"/>
<line x1="306.5" y1="465" x2="306.5" y2="470"/>
<line x1="339.5" y1="338" x2="339.5" y2="343"/>
<line x1="337.5" y1="465" x2="337.5" y2="470"/>
<line x1="370.5" y1="338" x2="370.5" y2="343"/>
<line x1="368.5" y1="465" x2="368.5" y2="470"/>
<line x1="400.5" y1="338" x2="400.5" y2="343"/>
<line x1="399.5" y1="465" x2="399.5" y2="470"/>
<line x1="431.5" y1="338" x2="431.5" y2="343"/>
<line x1="430.5" y1="465" x2="430.5" y2="470"/>
<line x1="462.5" y1="338" x2="462.5" y2="343"/>
<line x1="460.5" y1="465" x2="460.5" y2="470"/>
<line x1="493.5" y1="338" x2="493.5" y2="343"/>
<line x1="491.5" y1="465" x2="491.5" y2="470"/>
<line x1="524.5" y1="338" x2="524.5" y2="343"/>
<line x1="522.5" y1="465" x2="522.5" y2="470"/>
<line x1="554.5" y1="338" x2="554.5" y2="343"/>
<line x1="553.5" y1="465" x2="553.5" y2="470"/>
<line x1="585.5" y1="338" x2="585.5" y2="343"/>
<line x1="584.5" y1="465" x2="584.5" y2="470"/>
<line x1="616.5" y1="338" x2="616.5" y2="343"/>
<line x1="614.5" y1="465" x2="614.5" y2="470"/>
<line x1="647.5" y1="338" x2="647.5" y2="343"/>
<line x1="645.5" y1="465" x2="645.5" y2="470"/>
<line x1="677.5" y1="338" x2="677.5" y2="343"/>
<line x1="676.5" y1="465" x2="676.5" y2="470"/>
<line x1="708.5" y1="338" x2="708.5" y2="343"/>
<line x1="707.5" y1="465" x2="707.5" y2="470"/>
<line x1="739.5" y1="338" x2="739.5" y2="343"/>
<line x1="738.5" y1="465" x2="738.5" y2="470"/>
<line x1="770.5" y1="338" x2="770.5" y2="343"/>
<line x1="768.5" y1="465" x2="768.5" y2="470"/>
<line x1="801.5" y1="338" x2="801.5" y2="343"/>
<line x1="799.5" y1="465" x2="799.5" y2="470"/>
<line x1="61" y1="470.5" x2="66" y2="470.5"/>
<line x1="61" y1="463.5" x2="64" y2="463.5"/>
<line x1="61" y1="457.5" x2="64" y2="457.5"/>
<line x1="61" y1="450.5" x2="64" y2="450.5"/>
<line x1="61" y1="444.5" x2="64" y2="444.5"/>
<line x1="61" y1="437.5" x2="66" y2="437.5"/>
<line x1="61" y1="431.5" x2="64" y2="431.5"/>
<line x1="61" y1="424.5" x2="64" y2="424.5"/>
<line x1="61" y1="418.5" x2="64" y2="418.5"/>
<line x1="61" y1="411.5" x2="64" y2="411.5"/>
<line x1="61" y1="405.5" x2="66" y2="405.5"/>
<line x1="61" y1="398.5" x2="64" y2="398.5"/>
<line x1="61" y1="392.5" x2="64" y2="392.5"/>
<line x1="61" y1="385.5" x2="64" y2="385.5"/>
<line x1="61" y1="378.5" x2="64" y2="378.5"/>
<line x1="61" y1="372.5" x2="66" y2="372.5"/>
<line x1="61" y1="365.5" x2="64" y2="365.5"/>
<line x1="61" y1="359.5" x2="64" y2="359.5"/>
</g>
<g font-family="Liberation Sans, sans-serif" font-size="10.6" fill="#000" style="filter:grayscale(1)">
<text x="51.5" y="74.3" text-anchor="end" textLength="23.6" lengthAdjust="spacingAndGlyphs">10.0</text>
<text x="51.5" y="113.3" text-anchor="end" textLength="16.9" lengthAdjust="spacingAndGlyphs">9.0</text>
<text x="51.5" y="152.3" text-anchor="end" textLength="16.9" lengthAdjust="spacingAndGlyphs">8.0</text>
<text x="51.5" y="191.3" text-anchor="end" textLength="16.9" lengthAdjust="spacingAndGlyphs">7.0</text>
<text x="51.5" y="230.3" text-anchor="end" textLength="16.9" lengthAdjust="spacingAndGlyphs">6.0</text>
<text x="51.5" y="269.3" text-anchor="end" textLength="16.9" lengthAdjust="spacingAndGlyphs">5.0</text>
<text x="51.5" y="308.3" text-anchor="end" textLength="16.9" lengthAdjust="spacingAndGlyphs">4.0</text>
<text x="51.5" y="347.3" text-anchor="end" textLength="16.9" lengthAdjust="spacingAndGlyphs">3.0</text>
<text x="837.5" y="347.0" text-anchor="start" textLength="20.2" lengthAdjust="spacingAndGlyphs">600</text>
<text x="837.5" y="319.0" text-anchor="start" textLength="20.2" lengthAdjust="spacingAndGlyphs">650</text>
<text x="837.5" y="292.0" text-anchor="start" textLength="20.2" lengthAdjust="spacingAndGlyphs">700</text>
<text x="837.5" y="265.0" text-anchor="start" textLength="20.2" lengthAdjust="spacingAndGlyphs">750</text>
<text x="837.5" y="237.0" text-anchor="start" textLength="20.2" lengthAdjust="spacingAndGlyphs">800</text>
<text x="837.5" y="210.0" text-anchor="start" textLength="20.2" lengthAdjust="spacingAndGlyphs">850</text>
<text x="837.5" y="183.0" text-anchor="start" textLength="20.2" lengthAdjust="spacingAndGlyphs">900</text>
<text x="837.5" y="155.0" text-anchor="start" textLength="20.2" lengthAdjust="spacingAndGlyphs">950</text>
<text x="837.5" y="128.0" text-anchor="start" textLength="27.0" lengthAdjust="spacingAndGlyphs">1000</text>
<text x="837.5" y="101.0" text-anchor="start" textLength="27.0" lengthAdjust="spacingAndGlyphs">1050</text>
<text x="837.5" y="74.0" text-anchor="start" textLength="27.0" lengthAdjust="spacingAndGlyphs">1100</text>
<text x="52" y="474.3" text-anchor="end" textLength="15.9" lengthAdjust="spacingAndGlyphs">0M</text>
<text x="52" y="441.6" text-anchor="end" textLength="15.9" lengthAdjust="spacingAndGlyphs">5M</text>
<text x="52" y="408.90000000000003" text-anchor="end" textLength="22.7" lengthAdjust="spacingAndGlyphs">10M</text>
<text x="52" y="376.2" text-anchor="end" textLength="22.7" lengthAdjust="spacingAndGlyphs">15M</text>
</g>
<g font-family="Liberation Mono, monospace" font-size="12.2" fill="#000" style="filter:grayscale(1)">
<text transform="translate(65.9,528) rotate(-90)" textLength="54" lengthAdjust="spacingAndGlyphs">2025−3−27</text>
<text transform="translate(96.9,528) rotate(-90)" textLength="54" lengthAdjust="spacingAndGlyphs">2025−4−10</text>
<text transform="translate(127.9,528) rotate(-90)" textLength="54" lengthAdjust="spacingAndGlyphs">2025−4−25</text>
<text transform="translate(157.9,522) rotate(-90)" textLength="48" lengthAdjust="spacingAndGlyphs">2025−5−9</text>
<text transform="translate(188.9,528) rotate(-90)" textLength="54" lengthAdjust="spacingAndGlyphs">2025−5−23</text>
<text transform="translate(219.9,522) rotate(-90)" textLength="48" lengthAdjust="spacingAndGlyphs">2025−6−9</text>
<text transform="translate(250.9,528) rotate(-90)" textLength="54" lengthAdjust="spacingAndGlyphs">2025−6−24</text>
<text transform="translate(281.9,522) rotate(-90)" textLength="48" lengthAdjust="spacingAndGlyphs">2025−7−9</text>
<text transform="translate(311.9,528) rotate(-90)" textLength="54" lengthAdjust="spacingAndGlyphs">2025−7−23</text>
<text transform="translate(342.9,522) rotate(-90)" textLength="48" lengthAdjust="spacingAndGlyphs">2025−8−6</text>
<text transform="translate(373.9,528) rotate(-90)" textLength="54" lengthAdjust="spacingAndGlyphs">2025−8−20</text>
<text transform="translate(404.9,522) rotate(-90)" textLength="48" lengthAdjust="spacingAndGlyphs">2025−9−4</text>
<text transform="translate(435.9,528) rotate(-90)" textLength="54" lengthAdjust="spacingAndGlyphs">2025−9−18</text>
<text transform="translate(465.9,528) rotate(-90)" textLength="54" lengthAdjust="spacingAndGlyphs">2025−10−2</text>
<text transform="translate(496.9,534) rotate(-90)" textLength="60" lengthAdjust="spacingAndGlyphs">2025−10−16</text>
<text transform="translate(527.9,534) rotate(-90)" textLength="60" lengthAdjust="spacingAndGlyphs">2025−10−30</text>
<text transform="translate(558.9,534) rotate(-90)" textLength="60" lengthAdjust="spacingAndGlyphs">2025−11−13</text>
<text transform="translate(589.9,534) rotate(-90)" textLength="60" lengthAdjust="spacingAndGlyphs">2025−11−28</text>
<text transform="translate(619.9,534) rotate(-90)" textLength="60" lengthAdjust="spacingAndGlyphs">2025−12−12</text>
<text transform="translate(650.9,534) rotate(-90)" textLength="60" lengthAdjust="spacingAndGlyphs">2025−12−30</text>
<text transform="translate(681.9,528) rotate(-90)" textLength="54" lengthAdjust="spacingAndGlyphs">2026−1−14</text>
<text transform="translate(712.9,528) rotate(-90)" textLength="54" lengthAdjust="spacingAndGlyphs">2026−1−29</text>
<text transform="translate(743.9,528) rotate(-90)" textLength="54" lengthAdjust="spacingAndGlyphs">2026−2−13</text>
<text transform="translate(773.9,522) rotate(-90)" textLength="48" lengthAdjust="spacingAndGlyphs">2026−3−2</text>
<text transform="translate(804.9,528) rotate(-90)" textLength="54" lengthAdjust="spacingAndGlyphs">2026−3−16</text>
</g>
<text x="30" y="50.6" font-family="Liberation Mono, IPAGothic, Noto Sans CJK JP, monospace" font-size="12" fill="#000" textLength="54" lengthAdjust="spacingAndGlyphs">単位:ドル</text>
<text x="810" y="50.6" font-family="Liberation Mono, IPAGothic, Noto Sans CJK JP, monospace" font-size="12" fill="#000" textLength="42" lengthAdjust="spacingAndGlyphs">単位:円</text>
<rect x="190.5" y="22.5" width="521" height="43" fill="#f4f4f4" stroke="#808080" shape-rendering="crispEdges"/>
<rect x="198" y="29" width="11" height="11" fill="#000"/>
<line x1="195" y1="54.5" x2="212" y2="54.5" stroke="#ff0000" stroke-width="2"/>
<text style="filter:grayscale(1)" x="221" y="38" font-family="Liberation Mono, monospace" font-size="12.6" xml:space="preserve" textLength="364" lengthAdjust="spacingAndGlyphs">LeishenEnergyHoldingCoLt (Leishen Energy Holding Co.</text>
<text x="585" y="38.4" font-family="Liberation Mono, IPAGothic, Noto Sans CJK JP, monospace" font-size="13.3" fill="#000" textLength="117" lengthAdjust="spacingAndGlyphs">のドルベースの株価</text>
<text style="filter:grayscale(1)" x="221" y="58" font-family="Liberation Mono, monospace" font-size="12.6" xml:space="preserve" textLength="364" lengthAdjust="spacingAndGlyphs">LeishenEnergyHoldingCoLt (Leishen Energy Holding Co.</text>
<text x="585" y="58.4" font-family="Liberation Mono, IPAGothic, Noto Sans CJK JP, monospace" font-size="13.3" fill="#000" textLength="104" lengthAdjust="spacingAndGlyphs">の円ベースの株価</text>
</svg>
</body></html>
